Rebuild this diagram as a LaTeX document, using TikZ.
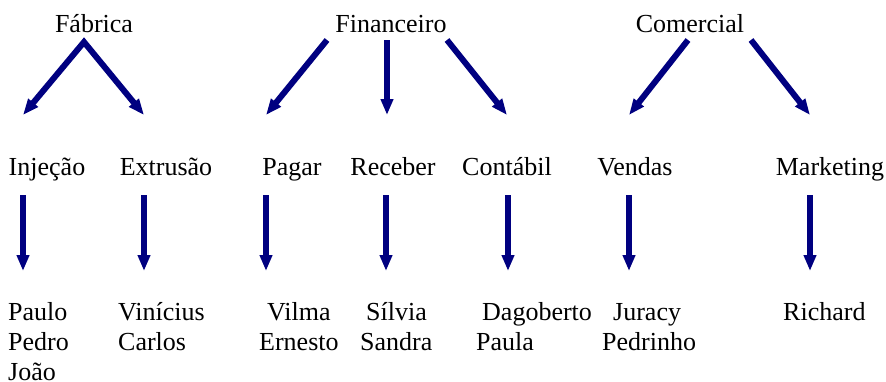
\documentclass[tikz,border=0pt]{standalone}
\usepackage{fontspec}
\setmainfont{Liberation Serif}
\usetikzlibrary{arrows.meta}
\definecolor{navy}{RGB}{0,0,128}
\tikzset{
  lbl/.style={anchor=base, inner sep=0pt, font=\fontsize{26}{30}\selectfont},
  grp/.style={anchor=base west, inner sep=0pt, font=\fontsize{26}{30}\selectfont},
  arr/.style={draw=navy, line width=6pt, -{Triangle[length=16pt,width=12pt]}},
  darr/.style={draw=navy, line width=6pt, {Triangle[length=16pt,width=12pt]}-{Triangle[length=16pt,width=12pt]}, line join=miter}
}
\newcommand{\names}[1]{\begin{tabular}[t]{@{}l@{}}#1\end{tabular}}
\begin{document}
\begin{tikzpicture}[x=1pt,y=-1pt]
\useasboundingbox (0,0) rectangle (886,381);
% top level
\node[lbl] (fab) at (94,32) {Fábrica};
\node[lbl] (fin) at (391,32) {Financeiro};
\node[lbl] (com) at (690,32) {Comercial};
% middle level
\node[lbl] (inj) at (47,175) {Injeção};
\node[lbl] (ext) at (166,175) {Extrusão};
\node[lbl] (pag) at (292,175) {Pagar};
\node[lbl] (rec) at (393,175) {Receber};
\node[lbl] (cont) at (507,175) {Contábil};
\node[lbl] (ven) at (635,175) {Vendas};
\node[lbl] (mkt) at (830,175) {Marketing};
% bottom level
\node[grp] (g1) at (8,320) {\names{Paulo\\Pedro\\João}};
\node[grp] (g2) at (118,320) {\names{Vinícius\\Carlos}};
\node[grp] (g3) at (259,320) {\names{\hspace{8pt}Vilma\\Ernesto}};
\node[grp] (g4) at (360,320) {\names{\hspace{6pt}Sílvia\\Sandra}};
\node[grp] (g5) at (476,320) {\names{\hspace{6pt}Dagoberto\\Paula}};
\node[grp] (g6) at (602,320) {\names{\hspace{11pt}Juracy\\Pedrinho}};
\node[grp] (g7) at (783,320) {\names{Richard}};
% arrow coordinates top
\coordinate (fabS) at (84,42);
\coordinate (finSL) at (327,40);
\coordinate (finSM) at (387,40);
\coordinate (finSR) at (447,40);
\coordinate (comSL) at (688,40);
\coordinate (comSR) at (751,40);
\coordinate (injN) at (23,115);
\coordinate (extN) at (144,115);
\coordinate (pagN) at (266,115);
\coordinate (recN) at (387,115);
\coordinate (contN) at (507,115);
\coordinate (venN) at (629,115);
\coordinate (mktN) at (810,115);
\draw[darr] (injN) -- (fabS) -- (extN);
\draw[arr] (finSL) -- (pagN);
\draw[arr] (finSM) -- (recN);
\draw[arr] (finSR) -- (contN);
\draw[arr] (comSL) -- (venN);
\draw[arr] (comSR) -- (mktN);
% arrow coordinates middle
\coordinate (injS) at (23,195);   \coordinate (g1N) at (23,271);
\coordinate (extS) at (144,195);  \coordinate (g2N) at (144,271);
\coordinate (pagS) at (266,195);  \coordinate (g3N) at (266,271);
\coordinate (recS) at (386,195);  \coordinate (g4N) at (386,271);
\coordinate (contS) at (508,195); \coordinate (g5N) at (508,271);
\coordinate (venS) at (629,195);  \coordinate (g6N) at (629,271);
\coordinate (mktS) at (810,195);  \coordinate (g7N) at (810,271);
\draw[arr] (injS) -- (g1N);
\draw[arr] (extS) -- (g2N);
\draw[arr] (pagS) -- (g3N);
\draw[arr] (recS) -- (g4N);
\draw[arr] (contS) -- (g5N);
\draw[arr] (venS) -- (g6N);
\draw[arr] (mktS) -- (g7N);
\end{tikzpicture}
\end{document}
